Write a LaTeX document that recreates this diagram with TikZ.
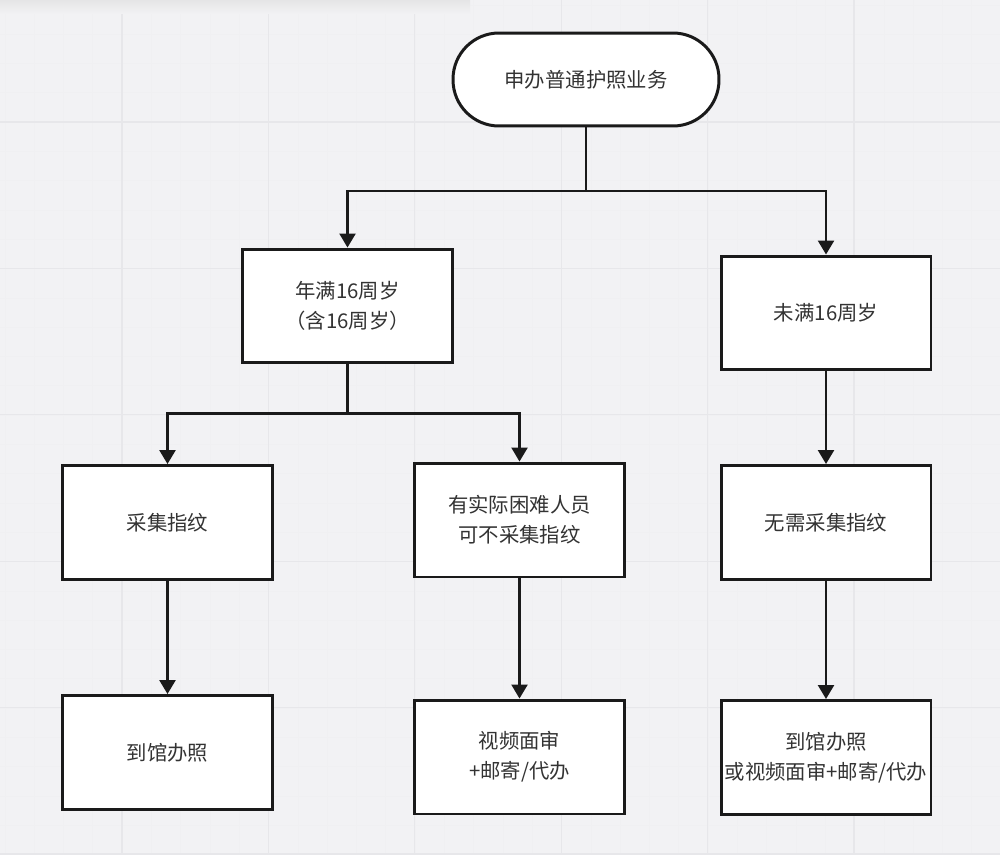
\documentclass[tikz,border=0pt]{standalone}
\usepackage{fontspec}
\setmainfont{Noto Sans CJK SC}
\usetikzlibrary{arrows.meta}
\definecolor{bgcol}{HTML}{F2F2F4}
\definecolor{gridcol}{HTML}{E7E7EA}
\definecolor{minorcol}{HTML}{F0F0F2}
\definecolor{linecol}{HTML}{1A1A1A}
\definecolor{txtcol}{HTML}{333333}

\begin{document}
\begin{tikzpicture}[x=0.02cm,y=-0.02cm,line width=1.4pt,draw=linecol]
    \tikzstyle{every node}=[font=\fontsize{11.6}{17}\selectfont,text=txtcol,align=center]
    \tikzstyle{box}=[rectangle,draw=linecol,fill=white,line width=1.7pt,minimum width=4.2cm,minimum height=2.28cm,inner sep=0pt]
    \tikzstyle{terminal}=[box,rounded corners=0.92cm,minimum width=5.32cm,minimum height=1.86cm]
    \tikzstyle{arrow}=[-{Triangle[length=0.28cm,width=0.32cm]}]

    \fill[bgcol] (0,0) rectangle (1000,855);
    \useasboundingbox (0,0) rectangle (1000,855);

    \foreach \x in {4.9,34.2,...,1000}
        \draw[minorcol,line width=0.4pt] (\x,0) -- (\x,855);
    \foreach \y in {4.9,34.2,...,855}
        \draw[minorcol,line width=0.4pt] (0,\y) -- (1000,\y);
    \foreach \x in {122,268.4,...,1000}
        \draw[gridcol,line width=0.6pt] (\x,0) -- (\x,855);
    \foreach \y in {122,268.4,...,855}
        \draw[gridcol,line width=0.6pt] (0,\y) -- (1000,\y);
    \shade[top color=black!10,bottom color=bgcol] (0,0) rectangle (470,14);

    \node[terminal] (start) at (586,79.5) {申办普通护照业务};
    \node[box] (adult) at (347.5,306) {年满16周岁\\（含16周岁）};
    \node[box] (minor) at (826,313) {未满16周岁};
    \node[box] (finger) at (167.5,522.5) {采集指纹};
    \node[box] (exempt) at (519.5,520) {有实际困难人员\\可不采集指纹};
    \node[box] (nofinger) at (826,522.5) {无需采集指纹};
    \node[box] (visit) at (167.5,752.5) {到馆办照};
    \node[box] (video) at (519.5,757) {视频面审\\+邮寄/代办};
    \node[box] (either) at (826,757.5) {到馆办照\\或视频面审+邮寄/代办};

    \coordinate (fork1) at (586,191);
    \coordinate (fork2) at (347.5,413.5);

    \draw (start.south) -- (fork1);
    \draw[arrow] (fork1) -| (adult.north);
    \draw[arrow] (fork1) -| (minor.north);
    \draw (adult.south) -- (fork2);
    \draw[arrow] (fork2) -| (finger.north);
    \draw[arrow] (fork2) -| (exempt.north);
    \draw[arrow] (minor) -- (nofinger);
    \draw[arrow] (finger) -- (visit);
    \draw[arrow] (exempt) -- (video);
    \draw[arrow] (nofinger) -- (either);
\end{tikzpicture}
\end{document}
